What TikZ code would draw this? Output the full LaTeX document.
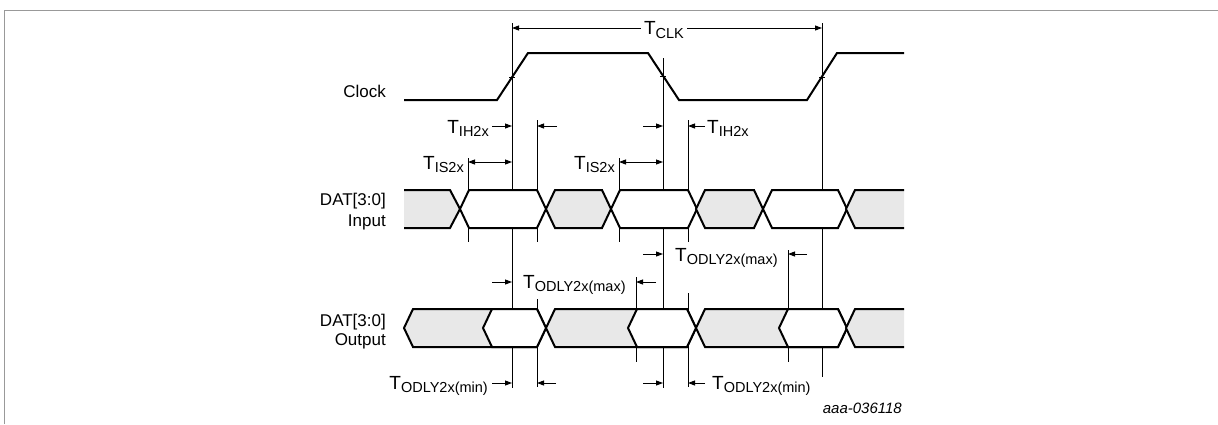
\documentclass[tikz,border=0pt]{standalone}
\usepackage{fontspec}
\setmainfont{Liberation Sans}
\usetikzlibrary{arrows.meta}
\newcommand{\tsub}[1]{\fontsize{19}{20}\selectfont T\raisebox{-3.5pt}{\fontsize{14.5}{15}\selectfont #1}}

\begin{document}
\begin{tikzpicture}
  [x=1pt, y=-1pt,
   sig/.style={line width=2pt, line join=miter},
   guide/.style={line width=0.8pt},
   dim/.style={line width=0.9pt, -{Triangle[length=7pt,width=5pt]}},
   dimboth/.style={line width=0.9pt, {Triangle[length=7pt,width=5pt]}-{Triangle[length=7pt,width=5pt]}},
   lbl/.style={inner sep=0pt, anchor=base east, font=\fontsize{17}{20}\selectfont},
   tlbl/.style={inner sep=0pt}]
  \useasboundingbox (0,0) rectangle (1218,424);
  \draw[black!40, line width=1.2pt] (4.5,424) -- (4.5,10.5) -- (1218,10.5);

  \draw[sig] (404,100) -- (497,100) -- (528,53) -- (648,53) -- (679,100)
    -- (807,100) -- (837,53) -- (904,53);

  \foreach \x/\a/\b in {512/23/388, 663/58/388, 822/23/377, 468/158/242,
      537/120/242, 619/158/242, 688/120/242, 537/299/387, 636/277/362,
      688/293/387, 788/250/362}
    \draw[guide] (\x,\a) -- (\x,\b);
  \foreach \x/\y in {512/77, 663/76, 822/77}
    \draw[guide] (\x-3,\y) -- (\x+3,\y);

  \fill[black!9] (404,190) -- (450,190) -- (460,209) -- (450,228) -- (404,228) -- cycle;
  \draw[sig] (404,190) -- (450,190) -- (460,209) -- (450,228) -- (404,228);
  \foreach \l/\r/\c in {469/537/white, 555/602/black!9, 620/688/white,
      705/754/black!9, 772/838/white}
    \draw[sig, fill=\c] (\l-9,209) -- (\l,190) -- (\r,190) -- (\r+9,209)
      -- (\r,228) -- (\l,228) -- cycle;
  \fill[black!9] (846,209) -- (855,190) -- (904,190) -- (904,228) -- (855,228) -- cycle;
  \draw[sig] (904,190) -- (855,190) -- (846,209) -- (855,228) -- (904,228);

  \foreach \l/\r/\c in {413/537/black!9, 492/537/white, 555/687/black!9,
      637/687/white, 705/838/black!9, 788/838/white}
    \draw[sig, fill=\c] (\l-9,328) -- (\l,309) -- (\r,309) -- (\r+9,328)
      -- (\r,347) -- (\l,347) -- cycle;
  \fill[black!9] (846,328) -- (855,309) -- (904,309) -- (904,347) -- (855,347) -- cycle;
  \draw[sig] (904,309) -- (855,309) -- (846,328) -- (855,347) -- (904,347);

  \node[lbl] (clk) at (386,97) {Clock};
  \node[lbl] (din) at (386,205) {DAT[3:0]};
  \node[lbl] (dinb) at (386,226) {Input};
  \node[lbl] (dout) at (386,326) {DAT[3:0]};
  \node[lbl] (doutb) at (386,345) {Output};

  \draw[dimboth] (512,28) -- (822,28);
  \node[fill=white, inner sep=3pt] (tclk) at (664,30) {\tsub{CLK}};

  \foreach \a/\b/\y in {492/512/126, 557/537/126, 643/663/126, 705/688/126,
      492/512/282, 656/636/282, 643/663/254, 807/788/254,
      492/512/383, 556/537/383, 643/663/383, 705/688/383}
    \draw[dim] (\a,\y) -- (\b,\y);
  \draw[dimboth] (468,162) -- (512,162);
  \draw[dimboth] (619,162) -- (663,162);

  \node[tlbl, anchor=base east] (tiha) at (489,133) {\tsub{IH2x}};
  \node[tlbl, anchor=base west] (tihb) at (707,133) {\tsub{IH2x}};
  \node[tlbl, anchor=base east] (tisa) at (464,169) {\tsub{IS2x}};
  \node[tlbl, anchor=base east] (tisb) at (615,169) {\tsub{IS2x}};
  \node[tlbl, anchor=base west] (tmaxa) at (523,288) {\tsub{ODLY2x(max)}};
  \node[tlbl, anchor=base west] (tmaxb) at (675,261) {\tsub{ODLY2x(max)}};
  \node[tlbl, anchor=base east] (tmina) at (488,389) {\tsub{ODLY2x(min)}};
  \node[tlbl, anchor=base west] (tminb) at (712,389) {\tsub{ODLY2x(min)}};

  \node[inner sep=0pt, anchor=base east, font=\fontsize{15}{16}\selectfont\itshape]
    (fig) at (902,413) {aaa-036118};
\end{tikzpicture}
\end{document}
